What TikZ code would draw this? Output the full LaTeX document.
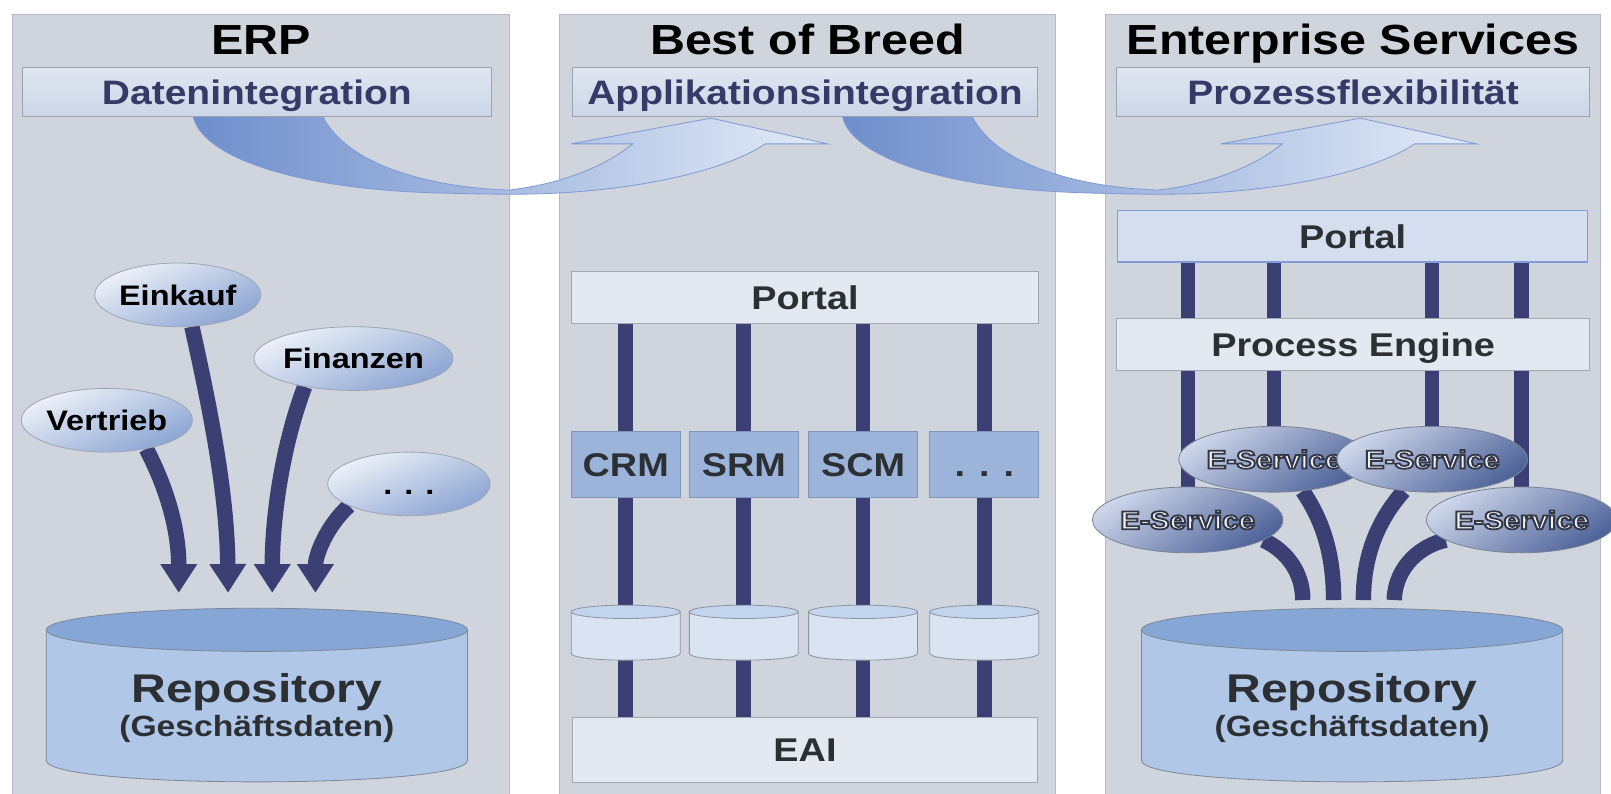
\documentclass[tikz,border=0pt]{standalone}
\usepackage{fontspec}
\setmainfont{Liberation Sans}
\usepackage{graphicx}
\usetikzlibrary{arrows.meta,shapes.geometric}

\definecolor{bgpanel}{HTML}{CFD4DD}
\definecolor{panelline}{HTML}{B4B9C3}
\definecolor{subtop}{HTML}{DFE6F1}
\definecolor{subbot}{HTML}{CCD6E7}
\definecolor{subline}{HTML}{9CA3AD}
\definecolor{navy}{HTML}{353A67}
\definecolor{barc}{HTML}{3B3F73}
\definecolor{dtext}{HTML}{2C3034}
\definecolor{paleface}{HTML}{E4E8F0}
\definecolor{paleline}{HTML}{A2A8B2}
\definecolor{appfill}{HTML}{9DB4DA}
\definecolor{appline}{HTML}{7F94B8}
\definecolor{cylbody}{HTML}{D9E3F1}
\definecolor{cyltop}{HTML}{C3D5EC}
\definecolor{cylline}{HTML}{8D95A1}
\definecolor{portalfill}{HTML}{D4DEEE}
\definecolor{portalline}{HTML}{7E9CD8}
\definecolor{repobody}{HTML}{B0C7E7}
\definecolor{repotop}{HTML}{86A6D5}
\definecolor{repoline}{HTML}{7D8999}
\definecolor{elltop}{HTML}{EEF2F9}
\definecolor{ellbot}{HTML}{8BA4D2}
\definecolor{ellline}{HTML}{9EA6B6}
\definecolor{estop}{HTML}{CDD6EA}
\definecolor{esbot}{HTML}{4E6399}
\definecolor{esline}{HTML}{7A8396}
\definecolor{estext}{HTML}{F2F3F6}
\definecolor{arrdark}{HTML}{6E8ECC}
\definecolor{arrmid}{HTML}{86A2D7}
\definecolor{arrlight}{HTML}{E3EBF7}
\definecolor{arrline}{HTML}{7E9BD6}

\newcommand\fsz[1]{\fontsize{#1}{#1}\selectfont\bfseries}
\newcommand\wid[1]{\scalebox{1.15}[1]{#1}}
\newcommand\outl[1]{\special{pdf:literal direct 2 Tr 1.7 w 0.2 0.21 0.27 RG}#1\special{pdf:literal direct 0 Tr}}

\pgfdeclarelayer{back}
\pgfdeclarelayer{mid}
\pgfsetlayers{back,mid,main}

\begin{document}
\begin{tikzpicture}[x=1pt, y=-1pt,
  panelbox/.style={fill=bgpanel, draw=panelline, line width=1},
  titletext/.style={anchor=base, inner sep=0, font={\fsz{41}}, text=black},
  subbox/.style={draw=subline, line width=1, top color=subtop, bottom color=subbot, minimum height=47, inner sep=0, text=navy, font={\fsz{33}}, text height=24, text depth=0},
  palebox/.style={draw=paleline, line width=1, fill=paleface, inner sep=0, text=dtext, font={\fsz{32}}, text height=23, text depth=0},
  appbox/.style={draw=appline, line width=1, fill=appfill, minimum width=106, minimum height=64, inner sep=0, text=dtext, font={\fsz{32}}, text height=23, text depth=0},
  oval/.style={ellipse, draw=ellline, line width=0.8, top color=elltop, bottom color=ellbot, shading angle=25, minimum width=158, minimum height=62, inner sep=0, font={\fsz{27.5}}, text=black, text height=20, text depth=0},
  esoval/.style={ellipse, draw=esline, line width=0.8, top color=estop, bottom color=esbot, shading angle=35, minimum width=142, minimum height=64, inner sep=0, font={\fsz{25}}, text=estext, text height=18, text depth=0},
  barline/.style={draw=barc, line width=14.5},
  fatarrow/.style={draw=barc, line width=15, -{Triangle[width=34pt,length=28pt]}},
  repotext/.style={anchor=base, inner sep=0, text=dtext},
  bigarrow/.style={left color=arrdark, middle color=arrmid, right color=arrlight, draw=arrline, line width=0.8}
]
\useasboundingbox (0,0) rectangle (1568,772);

\begin{pgfonlayer}{back}
  \fill[white] (0,0) rectangle (1568,772);
  \path[panelbox] (12,14) rectangle (496,790);
  \path[panelbox] (545,14) rectangle (1027,790);
  \path[panelbox] (1076,14) rectangle (1558,790);
\end{pgfonlayer}

% titles
\node[titletext] (tERP) at (254,53) {\wid{ERP}};
\node[titletext] (tBoB) at (786,53) {\wid{Best of Breed}};
\node[titletext] (tES)  at (1317,53) {\wid{Enterprise Services}};

% subtitle boxes
\node[subbox, minimum width=456] (subL) at (250,89.5) {\wid{Datenintegration}};
\node[subbox, minimum width=453] (subM) at (783.5,89.5) {\wid{Applikationsintegration}};
\node[subbox, minimum width=460] (subR) at (1317,89.5) {\wid{Prozessflexibilität}};

% ERP panel
\node[oval] (einkauf)  at (173,287) {\wid{Einkauf}};
\node[oval] (finanzen) at (344,349) {\wid{Finanzen}};
\node[oval] (vertrieb) at (104,409) {\wid{Vertrieb}};
\node[oval] (dotsL)    at (398,471) {\wid{. . .}};
\coordinate (a1) at (174,577);
\coordinate (a2) at (222,577);
\coordinate (a3) at (265,577);
\coordinate (a4) at (307,577);

% repositories
\foreach \cx in {250,1316}{
  \path[fill=repobody, draw=repoline, line width=0.8]
    (\cx-205,613) -- (\cx-205,740) .. controls (\cx-205,768) and (\cx+205,768) .. (\cx+205,740) -- (\cx+205,613) -- cycle;
  \path[fill=repotop, draw=repoline, line width=0.8] (\cx,613) ellipse [x radius=205pt, y radius=21pt];
}
\node[repotext, font={\fsz{39}}] (repoL) at (250,684) {\scalebox{1.2}[1]{Repository}};
\node[repotext, font={\fsz{28.5}}] (repoLs) at (250,717) {\wid{(Geschäftsdaten)}};
\node[repotext, font={\fsz{39}}] (repoR) at (1316,684) {\scalebox{1.2}[1]{Repository}};
\node[repotext, font={\fsz{28.5}}] (repoRs) at (1316,717) {\wid{(Geschäftsdaten)}};

% Best of Breed panel
\node[palebox, minimum width=455, minimum height=51] (portalM) at (783.5,289.5) {\wid{Portal}};
\node[appbox] (crm)   at (609,452) {\wid{CRM}};
\node[appbox] (srm)   at (724,452) {\wid{SRM}};
\node[appbox] (scm)   at (840,452) {\wid{SCM}};
\node[appbox] (dotsM) at (958,452) {\wid{. . .}};
\foreach \cx in {609,724,840,958}{
  \path[fill=cylbody, draw=cylline, line width=0.8]
    (\cx-53,595.5) -- (\cx-53,636) .. controls (\cx-53,644.7) and (\cx+53,644.7) .. (\cx+53,636) -- (\cx+53,595.5) -- cycle;
  \path[fill=cyltop, draw=cylline, line width=0.8] (\cx,595.5) ellipse [x radius=53pt, y radius=6.5pt];
}
\node[palebox, minimum width=453, minimum height=64] (eaiM) at (783.5,730) {\wid{EAI}};

% Enterprise Services panel
\node[palebox, fill=portalfill, draw=portalline, minimum width=457, minimum height=50] (portalR) at (1316.5,230) {\wid{Portal}};
\node[palebox, minimum width=460, minimum height=51] (peR) at (1317,335.5) {\wid{Process Engine}};
\node[esoval] (es1) at (1156,506) {\wid{\outl{E-Service}}};
\node[esoval] (es2) at (1240,447) {\wid{\outl{E-Service}}};
\node[esoval] (es3) at (1394,447) {\wid{\outl{E-Service}}};
\node[esoval] (es4) at (1481,506) {\wid{\outl{E-Service}}};
\coordinate (r1) at (1268,584);
\coordinate (r2) at (1298,584);
\coordinate (r3) at (1327,584);
\coordinate (r4) at (1357,584);

\begin{pgfonlayer}{mid}
  % big integration arrows
  \path[bigarrow] (188,113) .. controls (195,150) and (280,185) .. (435,188)
     .. controls (470,189) and (490,189) .. (500,189)
     .. controls (600,189) and (700,170) .. (745,140)
     -- (805,140) -- (692,115) -- (556,140) -- (616,140)
     .. controls (585,165) and (540,180) .. (495,185)
     .. controls (430,183) and (340,165) .. (314,113) -- cycle;
  \path[bigarrow, shift={(632,0)}] (188,113) .. controls (195,150) and (280,185) .. (435,188)
     .. controls (470,189) and (490,189) .. (500,189)
     .. controls (600,189) and (700,170) .. (745,140)
     -- (805,140) -- (692,115) -- (556,140) -- (616,140)
     .. controls (585,165) and (540,180) .. (495,185)
     .. controls (430,183) and (340,165) .. (314,113) -- cycle;

  % ERP arrows
  \draw[fatarrow] (vertrieb.-36) .. controls (165,480) and (174,520) .. (a1);
  \draw[fatarrow] (einkauf.-66) .. controls (205,400) and (221,480) .. (a2);
  \draw[fatarrow] (finanzen.-150) .. controls (276,430) and (265,500) .. (a3);
  \draw[fatarrow] (dotsL.-160) .. controls (318,512) and (307,540) .. (a4);

  % Best of Breed bars
  \foreach \n in {crm,srm,scm,dotsM}{
    \draw[barline] (portalM.south -| \n.north) -- (eaiM.north -| \n.north);
  }

  % Enterprise Services bars
  \foreach \n in {es1,es2,es3,es4}{
    \draw[barline, line width=14] (portalR.south -| \n.north) -- (\n.north);
  }
  \draw[barline, line width=15] (es1.-15) .. controls (1250,535) and (1268,555) .. (r1);
  \draw[barline, line width=15] (es2.-48) .. controls (1290,510) and (1298,545) .. (r2);
  \draw[barline, line width=15] (es3.-132) .. controls (1338,510) and (1327,545) .. (r3);
  \draw[barline, line width=15] (es4.-165) .. controls (1385,530) and (1358,550) .. (r4);
\end{pgfonlayer}
\end{tikzpicture}
\end{document}
